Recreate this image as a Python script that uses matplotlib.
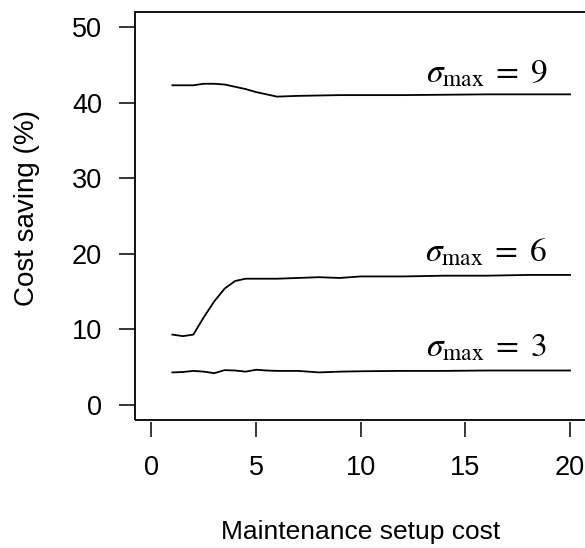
import matplotlib
matplotlib.use("Agg")
import matplotlib.pyplot as plt
from matplotlib.patches import Rectangle

# setup cost grid and cost saving (%) for each sigma_max
setup_cost = [1, 1.5, 2, 2.5, 3, 3.5, 4, 4.5, 5, 5.5, 6, 7, 8, 9, 10, 12, 14, 16, 18, 20]
saving_s9 = [42.3, 42.3, 42.3, 42.5, 42.5, 42.4, 42.1, 41.8, 41.4, 41.1, 40.8,
             40.9, 40.95, 41.0, 41.0, 41.0, 41.05, 41.1, 41.1, 41.1]
saving_s6 = [9.3, 9.1, 9.3, 11.6, 13.7, 15.4, 16.4, 16.7, 16.7, 16.7, 16.7,
             16.8, 16.9, 16.8, 17.0, 17.0, 17.1, 17.1, 17.2, 17.2]
saving_s3 = [4.3, 4.35, 4.5, 4.4, 4.2, 4.6, 4.55, 4.4, 4.65, 4.55, 4.5,
             4.5, 4.3, 4.4, 4.45, 4.5, 4.5, 4.55, 4.55, 4.55]

curve_labels = [r"$\sigma_{\mathrm{max}}\;=\;9$",
                r"$\sigma_{\mathrm{max}}\;=\;6$",
                r"$\sigma_{\mathrm{max}}\;=\;3$"]
label_x = 16
label_y = [42.7, 19.0, 6.4]

x_ticks = [0, 5, 10, 15, 20]
y_ticks = [0, 10, 20, 30, 40, 50]

plt.rcParams["font.family"] = ["Liberation Sans", "DejaVu Sans"]
plt.rcParams["mathtext.fontset"] = "stix"

fig = plt.figure(figsize=(5.85, 5.48), dpi=100)
ax = fig.add_axes([134.7 / 585, 128 / 548, 452.1 / 585, 408 / 548])

for ys in (saving_s9, saving_s6, saving_s3):
    ax.plot(setup_cost, ys, color="black", lw=1.3)

for txt, ly in zip(curve_labels, label_y):
    ax.text(label_x, ly, txt, ha="center", va="baseline", fontsize=24)

ax.set_xlim(-0.8, 20.8)
ax.set_ylim(-2, 52)
ax.set_xticks(x_ticks)
ax.set_yticks(y_ticks)

for s in ax.spines.values():
    s.set_visible(False)
ax.spines["bottom"].set_position(("outward", 1.5))
ax.add_patch(Rectangle((0, 0), 1, 1, transform=ax.transAxes, fill=False,
                       lw=1.3, edgecolor="black", clip_on=False))

ax.tick_params(axis="y", length=11.5, width=1.1, pad=12, labelsize=19.5)
ax.tick_params(axis="x", length=11, width=1.1, pad=13, labelsize=19.5)

ax.set_xlabel("Maintenance setup cost", fontsize=19)
ax.set_ylabel("Cost saving (%)", fontsize=20)
ax.xaxis.set_label_coords(0.5, -0.245)
ax.yaxis.set_label_coords(-0.21, 0.52)

fig.savefig("out.png", dpi=100)
